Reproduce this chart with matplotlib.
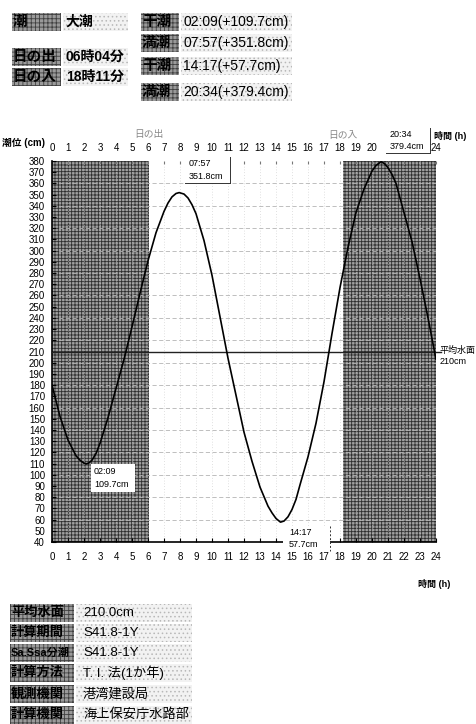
import matplotlib
matplotlib.use('Agg')
import matplotlib.pyplot as plt
from matplotlib.patches import Rectangle

plt.rcParams['font.family'] = ['Liberation Sans', 'Noto Sans CJK JP', 'DejaVu Sans']
plt.rcParams['hatch.linewidth'] = 0.6

# ---------------- data ----------------
hours = [0.0, 0.5, 1.0, 1.5, 1.75, 2.0, 2.15, 2.3, 2.5, 2.75, 3.0, 3.5, 4.0, 4.5, 5.0,
         5.5, 6.0, 6.5, 7.0, 7.25, 7.5, 7.75, 7.95, 8.25, 8.5, 8.75, 9.0, 9.5, 10.0,
         10.5, 11.0, 11.5, 12.0, 12.5, 13.0, 13.5, 13.75, 14.0, 14.28, 14.5, 14.75,
         15.0, 15.25, 15.5, 16.0, 16.5, 17.0, 17.5, 18.0, 18.5, 19.0, 19.5, 20.0,
         20.25, 20.57, 20.8, 21.0, 21.25, 21.5, 22.0, 22.5, 23.0, 23.5, 24.0]
levels = [180, 152, 131, 117, 113, 110.3, 109.7, 110.5, 113, 119, 128, 151, 177, 203, 232,
          262, 291, 316, 335, 342.5, 348, 351, 351.8, 350.5, 347, 341, 333, 309, 278,
          241, 204, 171, 138, 112, 89, 72, 66, 61, 57.7, 58.7, 62.5,
          69, 78, 91, 116, 146, 183, 226, 267, 303, 334, 355, 371,
          376, 379.4, 377.5, 374, 368, 360, 334, 308, 275, 240, 203]

event_labels = ["02:09\n109.7cm", "07:57\n351.8cm", "14:17\n57.7cm", "20:34\n379.4cm"]
sunrise = 6 + 4 / 60
sunset = 18 + 11 / 60
mean_level = 210
mean_label = "平均水面\n210cm"

xticks = list(range(0, 25))
top_xticks = list(range(0, 21)) + [24]
yticks = list(range(40, 381, 10))

info_left = [("潮", "大潮"), ("日の出", "06時04分"), ("日の入", "18時11分")]
info_right = [("干潮", "02:09(+109.7cm)"), ("満潮", "07:57(+351.8cm)"),
              ("干潮", "14:17(+57.7cm)"), ("満潮", "20:34(+379.4cm)")]
footer = [("平均水面", "210.0cm"), ("計算期間", "S41.8-1Y"), ("Sa.Ssa分潮", "S41.8-1Y"),
          ("計算方法", "T. I. 法(1か年)"), ("観測機関", "港湾建設局"),
          ("計算機関", "海上保安庁水路部")]

# ---------------- figure ----------------
W, H = 476, 724
fig = plt.figure(figsize=(W / 100, H / 100), dpi=100)


def fx(x):
    return x / W


def fy(y):
    return 1 - y / H


def box(x0, y0, x1, y1, dark=True, z=1):
    if dark:
        r = Rectangle((fx(x0), fy(y1)), fx(x1) - fx(x0), fy(y0) - fy(y1),
                      transform=fig.transFigure, facecolor='#9a9a9a',
                      edgecolor='#404040', hatch='++++', lw=0, zorder=z)
    else:
        r = Rectangle((fx(x0), fy(y1)), fx(x1) - fx(x0), fy(y0) - fy(y1),
                      transform=fig.transFigure, facecolor='#f2f2f2',
                      edgecolor='#b8b8b8', hatch='....', lw=0, zorder=z)
    fig.add_artist(r)


# top info block
left_rows = [22, 57, 77]
for (lab, val), yc in zip(info_left, left_rows):
    box(12, yc - 9, 61, yc + 9, dark=True)
    box(63, yc - 9, 128, yc + 9, dark=False)
    fig.text(fx(13), fy(yc), lab, fontsize=10.5, fontweight='bold', va='center', ha='left', zorder=3)
    fig.text(fx(66), fy(yc), val, fontsize=10, fontweight='bold', va='center', ha='left', zorder=3)

right_rows = [22, 43, 66, 92]
for (lab, val), yc in zip(info_right, right_rows):
    box(141, yc - 9, 179, yc + 9, dark=True)
    box(181, yc - 9, 292, yc + 9, dark=False)
    fig.text(fx(142), fy(yc), lab, fontsize=10.5, fontweight='bold', va='center', ha='left', zorder=3)
    fig.text(fx(183), fy(yc), val, fontsize=10, va='center', ha='left', zorder=3)

# footer
foot_rows = [613, 633, 653, 673, 694, 715]
for (lab, val), yc in zip(footer, foot_rows):
    box(10, yc - 9, 74, yc + 9, dark=True)
    box(76, yc - 9, 192, yc + 9, dark=False)
    fs = 9.5 if len(lab) <= 4 else 8
    fig.text(fx(11), fy(yc), lab, fontsize=fs, fontweight='bold', va='center', ha='left', zorder=3)
    fig.text(fx(83), fy(yc), val, fontsize=9.5, va='center', ha='left', zorder=3)

# ---------------- chart ----------------
ax_l, ax_r, ax_t, ax_b = 52, 436, 161, 542
ax = fig.add_axes([fx(ax_l), fy(ax_b), fx(ax_r) - fx(ax_l), fy(ax_t) - fy(ax_b)])
ax.set_xlim(0, 24)
ax.set_ylim(40, 380)

for a, b in [(0, sunrise), (sunset, 24)]:
    ax.axvspan(a, b, facecolor='#a0a0a0', edgecolor='#2e2e2e', hatch='+++++', lw=0, zorder=0)

for h in xticks[1:-1]:
    ax.axvline(h, color='#c4c4c4', lw=0.5, ls=(0, (1, 3)), zorder=1)
for v in range(60, 380, 20):
    ax.axhline(v, color='#b4b4b4', lw=0.6, ls=(0, (5, 3)), zorder=1)

ax.plot([0, 24.3], [mean_level, mean_level], color='#222222', lw=1.0, clip_on=False, zorder=3)
ax.plot(hours, levels, color='black', lw=1.2, zorder=4)

for s in ['top', 'right']:
    ax.spines[s].set_visible(False)
for s in ['left', 'bottom']:
    ax.spines[s].set_linewidth(1.2)

ax.set_xticks(xticks)
ax.set_xticklabels([str(t) for t in xticks], fontsize=7)
ax.set_yticks(yticks)
ax.set_yticklabels([str(t) for t in yticks], fontsize=7)
ax.tick_params(axis='y', direction='in', length=3, pad=5)
ax.tick_params(axis='x', direction='in', length=3, pad=7)

sec = ax.secondary_xaxis('top')
sec.set_xticks(top_xticks)
sec.set_xticklabels([str(t) for t in top_xticks], fontsize=7)
sec.tick_params(direction='in', length=2, pad=6, color='#777777')
sec.spines['top'].set_visible(False)

# axis titles
fig.text(fx(2), fy(143), "潮位 (cm)", fontsize=7, fontweight='bold', ha='left', va='center')
fig.text(fx(418), fy(584), "時間 (h)", fontsize=6.5, fontweight='bold', ha='left', va='center')
fig.text(fx(434), fy(136), "時間 (h)", fontsize=6.5, fontweight='bold', ha='left', va='center', zorder=2)

# sunrise / sunset labels
fig.text(fx(ax_l + sunrise * 16), fy(134), "日の出", fontsize=7, color='#888888', ha='center', va='center')
fig.text(fx(ax_l + sunset * 16), fy(135), "日の入", fontsize=7, color='#888888', ha='center', va='center')

# mean level label
fig.text(fx(440), fy(356), mean_label, fontsize=6.5, ha='left', va='center', linespacing=1.4)


# event annotation boxes (figure-pixel placement)
def ann_box(x0, y0, x1, y1, text, tx, edges):
    r = Rectangle((fx(x0), fy(y1)), fx(x1) - fx(x0), fy(y0) - fy(y1),
                  transform=fig.transFigure, facecolor='white', lw=0, zorder=5)
    fig.add_artist(r)
    fig.text(fx(tx), fy((y0 + y1) / 2), text, fontsize=6.5, ha='left', va='center',
             linespacing=1.5, zorder=6)
    for e in edges:
        if e == 'right':
            fig.add_artist(plt.Line2D([fx(x1), fx(x1)], [fy(y0), fy(y1)], color='#333333',
                                      lw=0.7, transform=fig.transFigure, zorder=6))
        if e == 'bottom':
            fig.add_artist(plt.Line2D([fx(x0), fx(x1)], [fy(y1), fy(y1)], color='#333333',
                                      lw=0.7, transform=fig.transFigure, zorder=6))
        if e == 'dashright':
            fig.add_artist(plt.Line2D([fx(x1), fx(x1)], [fy(y0), fy(y1)], color='#333333',
                                      lw=0.7, ls=(0, (2, 2)), transform=fig.transFigure, zorder=6))


ann_box(91, 464, 135, 492, event_labels[0], 94, [])
ann_box(185, 157, 230, 183, event_labels[1], 189, ['right', 'bottom'])
ann_box(283, 526, 330, 551, event_labels[2], 289, ['dashright'])
ann_box(386, 128, 430, 153, event_labels[3], 390, ['right', 'bottom'])

fig.savefig('out.png', dpi=100)
